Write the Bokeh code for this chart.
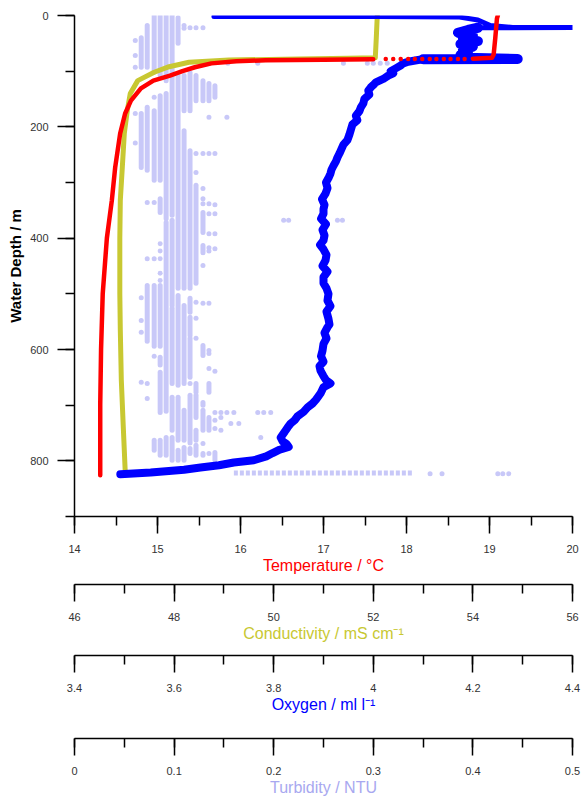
from bokeh.plotting import figure
from bokeh.models import Range1d, LinearAxis, FixedTicker, SingleIntervalTicker, CustomJSTickFormatter
from bokeh.embed import file_html
from bokeh.resources import INLINE

# ---------------- data ----------------
# temperature: mixed layer, then the thermocline below the sparse jump
temp_top_depth = [0, 5, 40, 70, 76, 77.5]
temp_top_val = [19.10, 19.09, 19.07, 19.05, 19.03, 18.80]
temp_jump_depth = [78, 78, 78, 78, 78, 78, 78, 78, 78, 78, 78, 78]
temp_jump_val = [18.70, 18.62, 18.53, 18.45, 18.36, 18.28, 18.19, 18.10, 18.02, 17.93, 17.84, 17.75]
temp_depth = [78.5, 79.5, 80.5, 82, 86, 93, 100, 108, 117, 131, 153, 176, 212, 273, 332, 400, 500, 600, 700, 826]
temp_val = [17.60, 17.00, 16.30, 15.95, 15.65, 15.45, 15.30, 15.15, 14.95, 14.80, 14.68, 14.61, 14.55, 14.49, 14.45, 14.39, 14.34, 14.32, 14.31, 14.31]

cond_depth = [0, 40, 76, 77, 78, 80, 84, 92, 102, 117, 140, 171, 212, 273, 332, 400, 500, 566, 655, 740, 822]
cond_val = [52.08, 52.06, 52.04, 51.50, 50.50, 49.10, 48.30, 47.90, 47.60, 47.27, 47.12, 47.06, 47.00, 46.96, 46.92, 46.91, 46.91, 46.92, 46.94, 46.98, 47.02]

# oxygen: surface soak (thin trace), mixed-layer scatter, descent profile
oxy_surf_depth = [2, 2, 2.5, 8, 18, 21.5, 21.5, 22]
oxy_surf_val = [3.68, 4.00, 4.17, 4.21, 4.235, 4.28, 4.40, 4.21]
oxy_mix_depth = [22, 26, 31, 36, 41, 46, 51, 56, 61, 66, 71, 76, 78, 78.5]
oxy_mix_val = [4.21, 4.19, 4.17, 4.20, 4.18, 4.21, 4.175, 4.20, 4.18, 4.19, 4.175, 4.185, 4.29, 4.10]
oxy_depth = [78.5,
             80, 83, 86, 90, 95, 100, 104, 108, 114, 120, 125, 129, 135, 142, 150, 158, 165, 172, 180,
             188, 196, 205, 214, 224, 232, 240, 248, 255, 262, 270, 277, 284, 292, 300, 310, 320, 330,
             340, 348, 356, 365, 375, 385, 395, 404, 412, 420, 430, 440, 450, 460, 470, 481, 490, 500,
             512, 522, 532, 545, 555, 560, 570, 580, 590, 602, 612, 622, 630, 638, 648, 655, 661, 668,
             679, 690, 697, 704, 712, 720, 727, 733, 740, 748, 758, 765, 770, 775, 780, 786, 792, 799,
             803, 808, 812, 816, 821, 824]
oxy_val = [4.10,
           4.09, 4.07, 4.06, 4.055, 4.045, 4.035, 4.04, 4.03, 4.02, 4.005, 4.0, 3.995, 3.99, 3.992, 3.982, 3.98, 3.975, 3.972, 3.965,
           3.968, 3.958, 3.955, 3.952, 3.948, 3.94, 3.936, 3.932, 3.928, 3.925, 3.92, 3.916, 3.914, 3.91, 3.905, 3.908, 3.904, 3.897,
           3.902, 3.90, 3.90, 3.895, 3.905, 3.898, 3.902, 3.90, 3.893, 3.90, 3.906, 3.904, 3.898, 3.908, 3.90, 3.90, 3.906, 3.91,
           3.908, 3.914, 3.906, 3.91, 3.912, 3.908, 3.902, 3.906, 3.90, 3.898, 3.895, 3.90, 3.892, 3.894, 3.90, 3.905, 3.914, 3.90,
           3.894, 3.885, 3.878, 3.868, 3.86, 3.848, 3.842, 3.834, 3.828, 3.822, 3.814, 3.818, 3.826, 3.83, 3.812, 3.798, 3.785, 3.76,
           3.72, 3.69, 3.653, 3.62, 3.553, 3.492]

# turbidity: dense runs of samples (value, top depth, bottom depth)
turb_run_val = [0.067, 0.067,
                0.073, 0.073, 0.073,
                0.080, 0.080, 0.080, 0.080,
                0.086, 0.086, 0.086, 0.086, 0.086, 0.086, 0.086,
                0.092, 0.092, 0.092, 0.092,
                0.098, 0.098, 0.098, 0.098, 0.098,
                0.104, 0.104, 0.104, 0.104, 0.104,
                0.110, 0.110, 0.110, 0.110, 0.110,
                0.116, 0.116, 0.116, 0.116, 0.116, 0.116, 0.116,
                0.122, 0.122, 0.122, 0.122, 0.122, 0.122,
                0.129, 0.129, 0.129, 0.129, 0.129, 0.129, 0.129,
                0.135, 0.135, 0.135,
                0.141, 0.141]
turb_run_top = [40, 176,
                18, 165, 485,
                0, 171, 485, 763,
                0, 144, 329, 485, 614, 641, 763,
                0, 140, 372, 758,
                0, 368, 526, 686, 758,
                4, 108, 503, 686, 781,
                108, 207, 521, 709, 776,
                103, 243, 508, 542, 580, 682, 778,
                108, 305, 661, 682, 745, 772,
                117, 354, 413, 593, 695, 709, 787,
                122, 661, 722,
                126, 785]
turb_run_bot = [93, 273,
                93, 278, 585,
                102, 296, 594, 781,
                108, 296, 354, 594, 628, 713, 790,
                117, 365, 711, 790,
                359, 521, 661, 745, 799,
                50, 490, 664, 763, 799,
                171, 490, 661, 763, 799,
                171, 490, 533, 575, 650, 768, 787,
                153, 481, 677, 722, 763, 790,
                153, 390, 426, 611, 700, 745, 790,
                153, 677, 745,
                147, 799]

# turbidity: isolated samples
turb_dot_val = [0.061, 0.061, 0.061, 0.061, 0.061,
                0.067, 0.067, 0.067, 0.067,
                0.073, 0.073, 0.073, 0.073,
                0.080, 0.080, 0.080, 0.080,
                0.086, 0.086, 0.086, 0.086, 0.086,
                0.110, 0.110,
                0.116, 0.116,
                0.122, 0.122, 0.122, 0.122, 0.122, 0.122,
                0.129, 0.129, 0.129, 0.129, 0.129, 0.129, 0.129, 0.129,
                0.135, 0.135, 0.135, 0.135, 0.135, 0.135, 0.135, 0.135, 0.135, 0.135, 0.135, 0.135,
                0.141, 0.141, 0.141, 0.141, 0.141, 0.141, 0.141, 0.141, 0.141,
                0.147, 0.147, 0.147,
                0.153, 0.153,
                0.154, 0.184, 0.270, 0.294, 0.300, 0.307, 0.314,
                0.210, 0.215, 0.264, 0.269,
                0.160, 0.184, 0.190, 0.197, 0.157, 0.165, 0.187,
                0.357, 0.369, 0.425, 0.430, 0.436]
turb_dot_depth = [45, 72, 93, 176, 229,
                  507, 548, 569, 659,
                  336, 437, 661, 688,
                  147, 336, 437, 612,
                  410, 423, 437, 463, 476,
                  18, 23,
                  22, 661,
                  22, 248, 282, 515, 544, 580,
                  22, 248, 311, 329, 338, 449, 517, 769,
                  183, 248, 338, 356, 392, 417, 423, 517, 602, 607, 634, 787,
                  248, 340, 356, 392, 419, 639, 713, 727, 742,
                  713, 722, 745,
                  183, 713,
                  86, 86, 86, 86, 86, 86, 86,
                  368, 368, 368, 368,
                  713, 713, 713, 713, 733, 733, 758,
                  823, 823, 823, 823, 823]

# turbidity: near-bottom row of samples
turb_row_from = [0.16]
turb_row_to = [0.34]
turb_row_depth = [822]

# axis tick intervals
depth_major = 200
temp_major = 1
cond_major = 2
oxy_major = 0.2
turb_major = 0.1

RED = "#ff0000"
OLIVE = "#c8c832"
BLUE = "#0000ff"
LAV = "#c8c8f8"
LAV_TXT = "#a8a8f0"
FONT = "Liberation Sans"

p = figure(width=585, height=801, output_backend="svg", toolbar_location=None,
           x_range=Range1d(14, 20), y_range=Range1d(900, 0),
           min_border_left=74, min_border_right=13, min_border_top=15, min_border_bottom=285)
p.extra_x_ranges = {"cond": Range1d(46, 56), "oxy": Range1d(3.4, 4.4), "turb": Range1d(0, 0.5)}
p.grid.visible = False
p.outline_line_color = None
p.background_fill_color = "white"
p.border_fill_color = "white"

fmt = CustomJSTickFormatter(code="return String(Number(tick.toFixed(4)));")


def style_axis(ax, label, color, interval):
    ax.ticker = SingleIntervalTicker(interval=interval, num_minor_ticks=2)
    ax.formatter = fmt
    ax.axis_label = label
    ax.axis_label_text_color = color
    ax.axis_label_text_font = FONT
    ax.axis_label_text_font_size = "16px"
    ax.axis_label_text_font_style = "normal"
    ax.axis_label_standoff = 1
    ax.major_label_text_font = FONT
    ax.major_label_text_font_size = "11px"
    ax.major_label_text_color = "#333333"
    ax.major_label_standoff = 11
    ax.axis_line_color = "black"
    ax.axis_line_width = 1.5
    ax.major_tick_line_color = "black"
    ax.major_tick_line_width = 1.5
    ax.minor_tick_line_color = "black"
    ax.minor_tick_line_width = 1.5
    ax.major_tick_in = 0
    ax.major_tick_out = 17
    ax.minor_tick_in = 0
    ax.minor_tick_out = 9


def spacer(size):
    # blank band between two stacked axes
    ax = LinearAxis(ticker=FixedTicker(ticks=[17], minor_ticks=[]), axis_line_color=None,
                    major_tick_line_color="white", minor_tick_line_color=None,
                    major_tick_in=0, major_tick_out=size, major_label_text_color=None,
                    major_label_text_font_size="0px", axis_label=None)
    return ax


# left depth axis
yax = p.yaxis[0]
style_axis(yax, "Water Depth / m", "black", depth_major)
yax.axis_label_text_font_style = "bold"
yax.axis_label_text_font_size = "15px"
yax.major_label_standoff = 9
yax.axis_label_standoff = 3

# bottom stack of axes
style_axis(p.xaxis[0], "Temperature / °C", RED, temp_major)
p.add_layout(spacer(8), "below")
ax_c = LinearAxis(x_range_name="cond")
style_axis(ax_c, "Conductivity / mS cm\u207b\u00b9", OLIVE, cond_major)
p.add_layout(ax_c, "below")
p.add_layout(spacer(11), "below")
ax_o = LinearAxis(x_range_name="oxy")
style_axis(ax_o, "Oxygen / ml l\u207b\u00b9", BLUE, oxy_major)
p.add_layout(ax_o, "below")
p.add_layout(spacer(23), "below")
ax_t = LinearAxis(x_range_name="turb")
style_axis(ax_t, "Turbidity / NTU", LAV_TXT, turb_major)
p.add_layout(ax_t, "below")

# turbidity
p.segment(x0=turb_run_val, y0=turb_run_top, x1=turb_run_val, y1=turb_run_bot,
          x_range_name="turb", line_color=LAV, line_width=5, line_cap="round")
p.scatter(x=turb_dot_val, y=turb_dot_depth, x_range_name="turb", size=5,
          fill_color=LAV, line_color=None)
p.segment(x0=turb_row_from, y0=turb_row_depth, x1=turb_row_to, y1=turb_row_depth,
          x_range_name="turb", line_color=LAV, line_width=5, line_dash="4 2")

# conductivity
p.line(x=cond_val, y=cond_depth, x_range_name="cond", line_color=OLIVE, line_width=5,
       line_join="round", line_cap="round")
# oxygen
p.line(x=oxy_surf_val, y=oxy_surf_depth, x_range_name="oxy", line_color=BLUE, line_width=5,
       line_join="round", line_cap="round")
p.line(x=oxy_mix_val, y=oxy_mix_depth, x_range_name="oxy", line_color=BLUE, line_width=10,
       line_join="round", line_cap="round")
p.line(x=oxy_val, y=oxy_depth, x_range_name="oxy", line_color=BLUE, line_width=8,
       line_join="round", line_cap="round")
# temperature
p.line(x=temp_top_val, y=temp_top_depth, line_color=RED, line_width=4.5,
       line_join="round", line_cap="round")
p.scatter(x=temp_jump_val, y=temp_jump_depth, size=4.5, fill_color=RED, line_color=None)
p.line(x=temp_val, y=temp_depth, line_color=RED, line_width=4.5,
       line_join="round", line_cap="round")

open("out.html", "w").write(file_html(p, INLINE))
